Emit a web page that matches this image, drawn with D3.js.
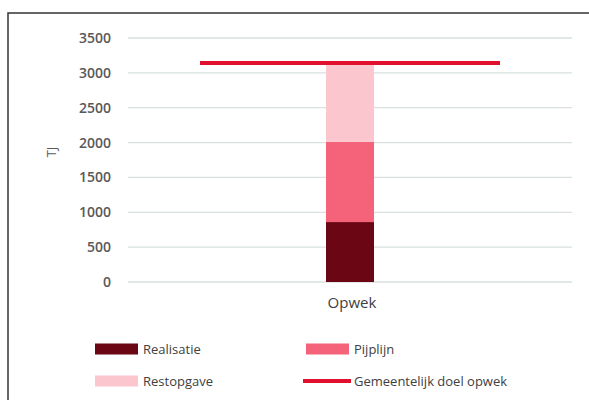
<!DOCTYPE html>
<html><head><meta charset="utf-8">
<script src="https://cdn.jsdelivr.net/npm/d3@7"></script>
<style>body{margin:0;background:#fff}svg{display:block}text{font-family:"Open Sans",sans-serif}</style>
</head><body>
<script>
const categories = ["Opwek"];
const seriesNames = ["Realisatie", "Pijplijn", "Restopgave"];
const realisatie = [860];
const pijplijn = [1150];
const restopgave = [1130];
const doelOpwek = [3140];
const yTicks = [0, 500, 1000, 1500, 2000, 2500, 3000, 3500];
const colors = ["#6b0715", "#f4637a", "#fcc6cf"];
const lineColor = "#e0102e";

const W = 589, H = 400;
const svg = d3.select("body").append("svg").attr("width", W).attr("height", H);

// frame
svg.append("rect").attr("x", 8).attr("y", 13).attr("width", 600).attr("height", 400)
  .attr("fill", "none").attr("stroke", "#333").attr("stroke-width", 1.5);

const x = d3.scaleBand().domain(categories).range([128, 572]);
const y = d3.scaleLinear().domain([0, 3500]).range([282, 38]);

// gridlines
svg.append("g").selectAll("line").data(yTicks).join("line")
  .attr("x1", 128).attr("x2", 572)
  .attr("y1", d => y(d)).attr("y2", d => y(d))
  .attr("stroke", "#d9e0df").attr("stroke-width", 1.3);

// y axis
const yAxis = svg.append("g").attr("transform", "translate(119,0)")
  .call(d3.axisLeft(y).tickValues(yTicks).tickFormat(d3.format("d")).tickSize(0).tickPadding(8));
yAxis.select(".domain").remove();
yAxis.selectAll("text").attr("font-size", 14).attr("font-weight", 600)
  .attr("fill", "#595959").style("font-family", "'Open Sans',sans-serif");

// x axis
const xAxis = svg.append("g").attr("transform", "translate(2,289)")
  .call(d3.axisBottom(x).tickSize(0).tickPadding(8));
xAxis.select(".domain").remove();
xAxis.selectAll("text").attr("font-size", 15).attr("font-weight", 400).attr("fill", "#404040")
  .style("font-family", "'Open Sans',sans-serif");

// y title
svg.append("text").attr("transform", "translate(56,152) rotate(-90)")
  .attr("text-anchor", "middle").attr("font-size", 13).attr("fill", "#595959").text("TJ");

// stacked bars
const rows = categories.map((c, i) => ({cat: c, Realisatie: realisatie[i], Pijplijn: pijplijn[i], Restopgave: restopgave[i]}));
const stack = d3.stack().keys(seriesNames)(rows);
const barW = 48;
svg.append("g").selectAll("g").data(stack).join("g").attr("fill", (d, i) => colors[i])
  .selectAll("rect").data(d => d).join("rect")
  .attr("x", d => x(d.data.cat) + x.bandwidth() / 2 - barW / 2)
  .attr("width", barW)
  .attr("y", d => y(d[1]))
  .attr("height", d => y(d[0]) - y(d[1]));

// target line
svg.append("g").selectAll("line").data(categories).join("line")
  .attr("x1", (c) => x(c) + x.bandwidth() / 2 - 150)
  .attr("x2", (c) => x(c) + x.bandwidth() / 2 + 150)
  .attr("y1", (c, i) => y(doelOpwek[i]))
  .attr("y2", (c, i) => y(doelOpwek[i]))
  .attr("stroke", lineColor).attr("stroke-width", 4);

// legend
const legend = [
  {name: "Realisatie", type: "rect", color: colors[0], x: 95, y: 349},
  {name: "Pijplijn", type: "rect", color: colors[1], x: 306, y: 349},
  {name: "Restopgave", type: "rect", color: colors[2], x: 95, y: 381},
  {name: "Gemeentelijk doel opwek", type: "line", color: lineColor, x: 303, y: 381}
];
const lg = svg.append("g").selectAll("g").data(legend).join("g")
  .attr("transform", d => `translate(${d.x},${d.y})`);
lg.filter(d => d.type === "rect").append("rect")
  .attr("x", 0).attr("y", -5.5).attr("width", 43).attr("height", 11).attr("fill", d => d.color);
lg.filter(d => d.type === "line").append("line")
  .attr("x1", 0).attr("x2", 48).attr("y1", 0).attr("y2", 0)
  .attr("stroke", d => d.color).attr("stroke-width", 4);
lg.append("text").attr("x", d => d.type === "line" ? 51 : 48).attr("y", 4.5)
  .attr("font-size", 13).attr("fill", "#404040").text(d => d.name);
</script>
</body></html>
